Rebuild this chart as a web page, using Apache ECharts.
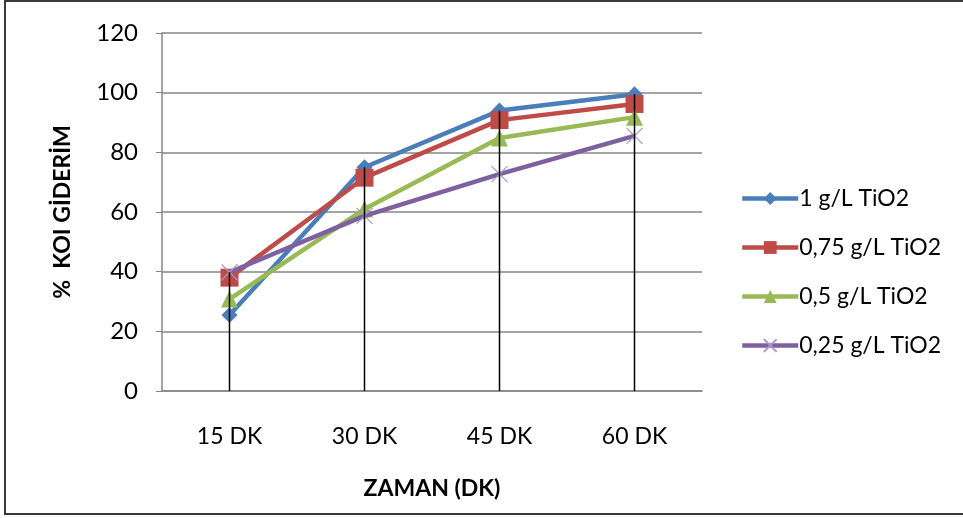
<!DOCTYPE html>
<html><head><meta charset="utf-8">
<script src="https://cdn.jsdelivr.net/npm/echarts@6/dist/echarts.min.js"></script>
<style>html,body{margin:0;padding:0;background:#fff}#c{width:963px;height:518px}</style>
</head><body><div id="c"></div>
<script>
const categories = ['15 DK', '30 DK', '45 DK', '60 DK'];
const s1 = [25.5, 75, 94, 99.5];
const s075 = [38, 71.5, 90.8, 96.2];
const s05 = [30.8, 61, 84.8, 91.8];
const s025 = [39.8, 58.7, 72.7, 85.5];
const seriesNames = ['1 g/L TiO2', '0,75 g/L TiO2', '0,5 g/L TiO2', '0,25 g/L TiO2'];
const yTicks = [0, 20, 40, 60, 80, 100, 120];

const dropMax = categories.map((_, i) => Math.max(s1[i], s075[i], s05[i], s025[i]));
const font = 'Lato, "Open Sans", sans-serif';
const chart = echarts.init(document.getElementById('c'), null, {renderer: 'canvas'});
const xPath = 'path://M0,0L10,10M10,0L0,10';
chart.setOption({
  animation: false,
  backgroundColor: '#fff',
  graphic: [{type: 'rect', shape: {x: 5, y: 1, width: 1000, height: 513}, style: {fill: 'none', stroke: '#3a3a3a', lineWidth: 2}, silent: true}],
  grid: {left: 162, right: 261, top: 33, bottom: 127},
  legend: {
    orient: 'vertical', left: 735, top: 182, itemGap: 26, itemWidth: 56, itemHeight: 16,
    data: seriesNames,
    lineStyle: {width: 4.5},
    textStyle: {fontFamily: font, fontSize: 23, color: '#000', padding: [0, 0, 0, -4]}
  },
  xAxis: {
    type: 'category', data: categories, boundaryGap: true,
    axisLine: {lineStyle: {color: '#868686', width: 1.5}},
    axisTick: {show: false},
    axisLabel: {fontFamily: font, fontSize: 23, color: '#000', margin: 34},
    name: 'ZAMAN (DK)', nameLocation: 'middle', nameGap: 86,
    nameTextStyle: {fontFamily: font, fontSize: 23, fontWeight: 'bold', color: '#000'}
  },
  yAxis: {
    type: 'value', min: 0, max: 120, interval: 20,
    axisLine: {show: true, lineStyle: {color: '#868686', width: 1.5}},
    axisTick: {show: true, inside: false, length: 6, lineStyle: {color: '#868686'}},
    splitLine: {lineStyle: {color: '#868686', width: 1.5}},
    axisLabel: {fontFamily: font, fontSize: 24, color: '#000', margin: 24,
      formatter: v => yTicks.includes(v) ? String(v) : ''},
    name: '%  KOI GİDERİM', nameLocation: 'middle', nameGap: 88,
    nameTextStyle: {fontFamily: font, fontSize: 23, fontWeight: 'bold', color: '#000'}
  },
  series: [
    {name: seriesNames[0], type: 'line', data: s1, symbol: 'diamond', symbolSize: 16,
      lineStyle: {color: '#4a7ebb', width: 4.5}, itemStyle: {color: '#4a7ebb'}, z: 5},
    {name: seriesNames[1], type: 'line', data: s075, symbol: 'rect', symbolSize: 18,
      lineStyle: {color: '#be4b48', width: 4.5}, itemStyle: {color: '#be4b48'}, z: 6},
    {name: seriesNames[2], type: 'line', data: s05, symbol: 'triangle', symbolSize: 17,
      lineStyle: {color: '#98b954', width: 4.5}, itemStyle: {color: '#98b954'}, z: 7},
    {name: seriesNames[3], type: 'line', data: s025, symbol: xPath, symbolSize: 16,
      lineStyle: {color: '#7d60a0', width: 4.5},
      itemStyle: {color: '#7d60a0', borderColor: '#a996cc', borderWidth: 1.2}, z: 8},
    {name: 'drop', type: 'bar', data: dropMax, barWidth: 1.5, itemStyle: {color: '#000'}, z: 10, silent: true}
  ]
});
</script></body></html>
